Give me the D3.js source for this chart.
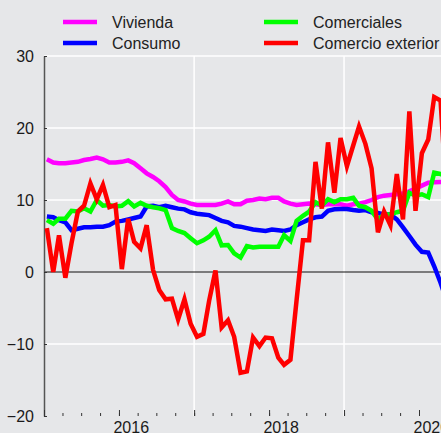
<!DOCTYPE html>
<html>
<head>
<meta charset="utf-8">
<script src="https://cdn.jsdelivr.net/npm/d3@7"></script>
<style>
    body { margin: 0; background: #e6e7e9; }
    svg { display: block; font-family: "Liberation Sans", Arial, sans-serif; }
</style>
</head>
<body>
<svg id="chart" width="441" height="433"></svg>
<script>
// monthly series, Jan 2015 .. May 2020
const startMonth = new Date(2015, 0, 15);

const vivienda = [15.65, 15.2, 15.1, 15.1, 15.2, 15.3, 15.55, 15.7, 15.9, 15.65, 15.2, 15.2,
    15.3, 15.5, 15.1, 14.4, 13.7, 13.2, 12.6, 11.8, 10.7, 10.0, 9.8, 9.5,
    9.3, 9.3, 9.3, 9.3, 9.5, 9.8, 9.4, 9.4, 9.9, 10.0, 10.2, 10.1,
    10.3, 10.3, 9.8, 9.5, 9.3, 9.4, 9.5, 9.4, 9.3, 9.4, 9.4, 9.4,
    9.2, 9.4, 9.5, 9.7, 10.0, 10.4, 10.6, 10.7, 10.8, 10.9, 11.2, 11.6,
    12.0, 12.4, 12.45, 12.5, 12.5];

const consumo = [7.7, 7.6, 7.2, 6.9, 5.8, 6.0, 6.2, 6.2, 6.3, 6.3, 6.5, 7.0,
    7.1, 7.3, 7.5, 7.7, 9.1, 9.2, 9.0, 9.2, 9.0, 8.8, 8.7, 8.3,
    8.1, 8.0, 7.9, 7.5, 7.1, 6.9, 6.4, 6.3, 6.1, 5.9, 5.8, 5.7,
    5.9, 5.8, 5.7, 5.9, 6.5, 6.9, 7.3, 7.6, 7.7, 8.5, 8.7, 8.75,
    8.75, 8.6, 8.5, 8.6, 8.3, 8.2, 8.0, 8.0, 7.3, 6.2, 5.0, 3.8,
    2.8, 2.7, 0.8, -1.5, -4.0];

const comerciales = [7.2, 6.7, 7.4, 7.4, 8.5, 8.4, 8.85, 8.4, 10.0, 9.2, 9.3, 9.1,
    9.2, 9.85, 9.1, 9.6, 9.2, 9.0, 8.85, 8.6, 6.1, 5.7, 5.4, 4.7,
    4.0, 4.4, 4.9, 5.8, 3.7, 3.75, 2.6, 2.0, 3.6, 3.4, 3.5, 3.5,
    3.5, 3.5, 5.1, 4.3, 7.1, 7.8, 8.4, 9.7, 9.2, 10.1, 9.7, 10.1,
    10.1, 10.3, 9.2, 9.0, 8.5, 7.3, 8.0, 8.0, 8.3, 8.5, 11.0, 10.6,
    10.8, 10.4, 13.8, 13.6, 13.2];

const comercioExterior = [6.1, 0.0, 5.1, -0.8, 4.0, 8.4, 9.2, 12.3, 10.1, 12.1, 9.0, 9.3,
    0.4, 7.4, 4.2, 3.3, 6.5, 0.3, -2.5, -3.8, -3.7, -6.6, -3.8, -7.2,
    -9.0, -8.6, -4.0, 0.2, -7.7, -6.7, -9.0, -14.0, -13.8, -9.1, -10.3, -9.1,
    -9.2, -11.9, -12.9, -12.2, -3.9, 4.4, 4.4, 15.3, 8.8, 18.0, 11.0, 18.6,
    14.7, 17.6, 20.2, 17.8, 14.4, 5.5, 8.4, 6.5, 13.6, 7.3, 22.3, 8.5,
    16.5, 18.4, 24.3, 23.8, 10.0];

const seriesNames = ["Vivienda", "Consumo", "Comerciales", "Comercio exterior"];
const seriesColors = ["#ff00ff", "#0000ff", "#00ff00", "#ff0000"];
const seriesValues = [vivienda, consumo, comerciales, comercioExterior];

const yTicks = [-20, -10, 0, 10, 20, 30];
const yGrid = [-10, 10, 20, 30];
const xLabelYears = [2016, 2018, 2020];
const xGridYears = [2017, 2019];

const svg = d3.select("#chart"),
    width = +svg.attr("width"),
    height = +svg.attr("height");

const plotLeft = 44, plotTop = 56, plotBottom = 416;

const x = d3.scaleTime()
    .domain([new Date(2015, 0, 1), new Date(2020, 0, 1)])
    .range([plotLeft, 419]);

const y = d3.scaleLinear()
    .domain([-20, 30])
    .range([plotBottom, plotTop]);

// grid lines
svg.append("g")
    .selectAll("line")
    .data(yGrid)
    .enter().append("line")
    .attr("x1", plotLeft).attr("x2", width)
    .attr("y1", d => y(d)).attr("y2", d => y(d))
    .attr("stroke", "#fff")
    .attr("stroke-width", 1.5);

svg.append("g")
    .selectAll("line")
    .data(xGridYears)
    .enter().append("line")
    .attr("x1", d => x(new Date(d, 0, 1))).attr("x2", d => x(new Date(d, 0, 1)))
    .attr("y1", plotTop).attr("y2", plotBottom)
    .attr("stroke", "#fff")
    .attr("stroke-width", 1.5);

// zero line
svg.append("line")
    .attr("x1", plotLeft).attr("x2", width)
    .attr("y1", y(0)).attr("y2", y(0))
    .attr("stroke", "#111")
    .attr("stroke-width", 1.2);

// y axis, ticks pointing inwards
const yAxis = svg.append("g")
    .attr("transform", `translate(${plotLeft},0)`)
    .call(d3.axisLeft(y).tickValues(yTicks).tickSizeInner(-3).tickSizeOuter(0).tickPadding(10));
yAxis.select(".domain").attr("stroke", "#555").attr("stroke-width", 1.5);
yAxis.selectAll(".tick line").attr("stroke", "#333");
yAxis.selectAll("text").attr("font-size", 16).attr("fill", "#1a1a1a");
yAxis.attr("font-family", null);

// x axis: yearly major ticks, quarterly minor ticks
const xMinor = svg.append("g")
    .attr("transform", `translate(0,${plotBottom})`)
    .call(d3.axisBottom(x).ticks(d3.timeMonth.every(3)).tickSizeInner(-3).tickSizeOuter(0).tickFormat(""));
xMinor.select(".domain").remove();
xMinor.selectAll(".tick line").attr("stroke", "#333");

const xMajor = svg.append("g")
    .attr("transform", `translate(0,${plotBottom})`)
    .call(d3.axisBottom(x).ticks(d3.timeYear.every(1)).tickSizeInner(-6).tickSizeOuter(0).tickFormat(""));
xMajor.select(".domain").remove();
xMajor.selectAll(".tick line").attr("stroke", "#333");

svg.append("g")
    .selectAll("text")
    .data(xLabelYears)
    .enter().append("text")
    .attr("x", d => x(new Date(d, 2, 1)))
    .attr("y", 433)
    .attr("text-anchor", "middle")
    .attr("font-size", 16)
    .attr("fill", "#1a1a1a")
    .text(d => d);

// lines
const line = d3.line()
    .x((d, i) => x(d3.timeMonth.offset(startMonth, i)))
    .y(d => y(d));

svg.append("g")
    .selectAll("path")
    .data(seriesValues)
    .enter().append("path")
    .attr("d", d => line(d))
    .attr("fill", "none")
    .attr("stroke", (d, i) => seriesColors[i])
    .attr("stroke-width", 4.5);

// legend, two columns
const legend = svg.append("g")
    .selectAll("g")
    .data(seriesNames)
    .enter().append("g")
    .attr("transform", (d, i) => `translate(${i < 2 ? 63 : 264},${i % 2 === 0 ? 22 : 43})`);

legend.append("line")
    .attr("x1", 0).attr("x2", 34)
    .attr("stroke", (d, i) => seriesColors[i])
    .attr("stroke-width", 4.5);

legend.append("text")
    .attr("x", 49)
    .attr("y", 6)
    .attr("font-size", 16)
    .attr("fill", "#222")
    .text(d => d);
</script>
</body>
</html>
